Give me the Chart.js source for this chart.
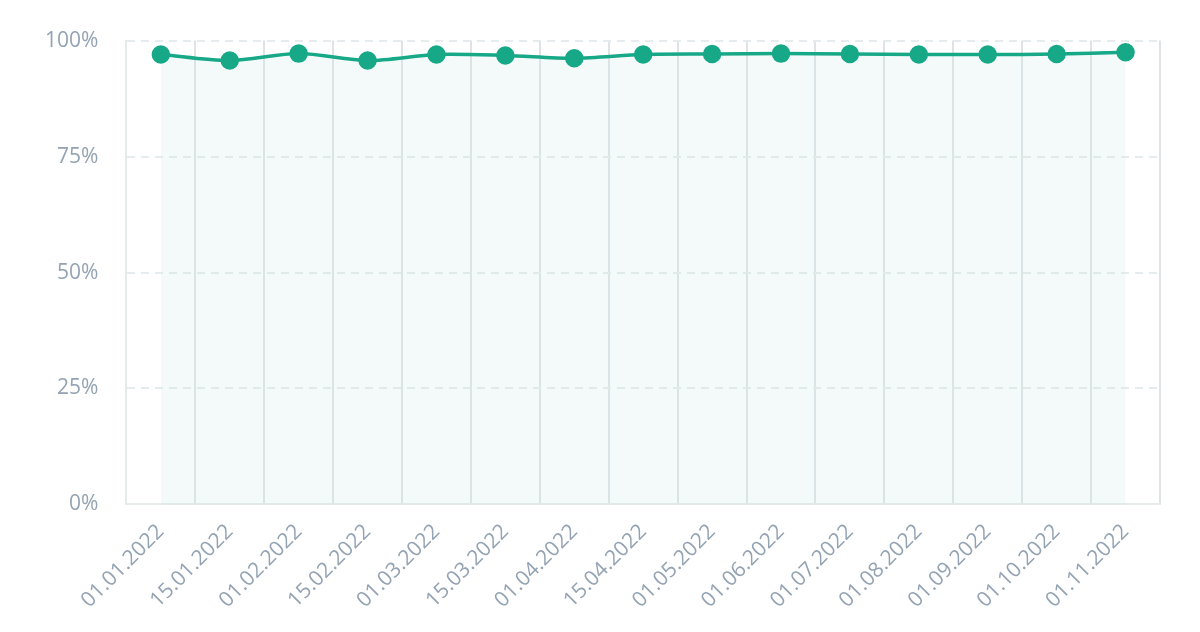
<!DOCTYPE html>
<html>
<head>
<meta charset="utf-8">
<script src="https://cdn.jsdelivr.net/npm/chart.js@4"></script>
<style>
  html, body { margin: 0; padding: 0; background: #fff; }
  #wrap { width: 1200px; height: 632px; }
</style>
</head>
<body>
<div id="wrap"><canvas id="chartLine"></canvas></div>
<script>
const labels = ['01.01.2022', '15.01.2022', '01.02.2022', '15.02.2022', '01.03.2022',
  '15.03.2022', '01.04.2022', '15.04.2022', '01.05.2022', '01.06.2022',
  '01.07.2022', '01.08.2022', '01.09.2022', '01.10.2022', '01.11.2022'];
const values = [97.0, 95.7, 97.2, 95.7, 97.0, 96.8, 96.2, 97.0, 97.1, 97.2, 97.1, 97.0, 97.0, 97.1, 97.5];
const yTicks = [0, 25, 50, 75, 100];

const tickColor = '#94a3b3';
const green = '#17a887';

const graph = {
  labels: labels,
  datasets: [{
    data: values,
    borderColor: green,
    backgroundColor: 'rgba(200, 230, 230, 0.2)',
    pointBackgroundColor: green,
    pointBorderColor: green,
    pointRadius: 7.5,
    pointHoverRadius: 7.5,
    borderWidth: 3.5,
    tension: 0.3,
    fill: 'origin'
  }]
};

const config = {
  type: 'line',
  data: graph,
  options: {
    responsive: true,
    maintainAspectRatio: false,
    animation: false,
    layout: { padding: { left: 17, right: 40, top: 28, bottom: 4 } },
    plugins: { legend: { display: false }, tooltip: { enabled: false } },
    scales: {
      x: {
        offset: true,
        grid: { offset: true, color: '#dfe3e5', lineWidth: 2, drawTicks: false },
        border: { color: '#e6eaeb', width: 2 },
        ticks: {
          color: tickColor,
          font: { family: 'Open Sans', size: 21 },
          maxRotation: 45,
          minRotation: 45,
          padding: 15
        }
      },
      y: {
        min: 0,
        max: 100,
        afterBuildTicks: (axis) => { axis.ticks = yTicks.map(v => ({ value: v })); },
        grid: { color: '#e6eced', lineWidth: 2, drawTicks: false },
        border: { color: '#e6eaeb', width: 2, dash: [8, 6] },
        ticks: {
          color: tickColor,
          font: { family: 'Open Sans', size: 21 },
          padding: 28,
          callback: (v) => v + '%'
        }
      }
    }
  }
};

new Chart(document.getElementById('chartLine'), config);
</script>
</body>
</html>
